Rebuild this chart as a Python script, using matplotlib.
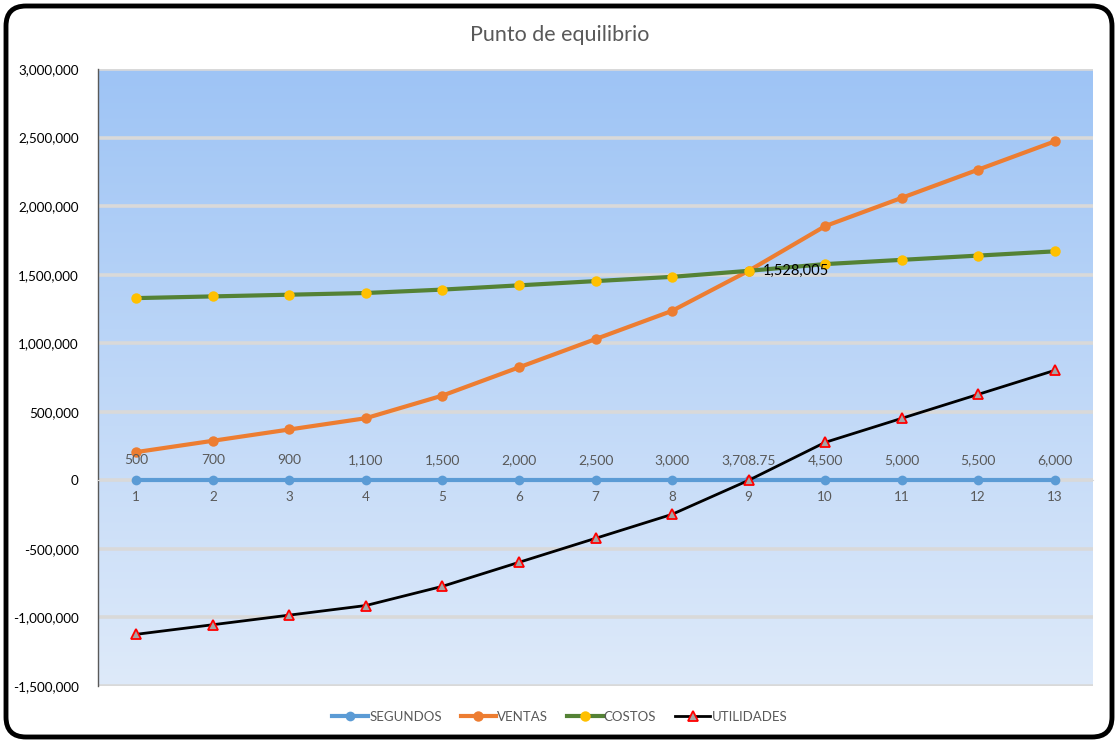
import numpy as np
import matplotlib
matplotlib.use("Agg")
import matplotlib.pyplot as plt
from matplotlib.patches import FancyBboxPatch
from matplotlib.ticker import FuncFormatter, MultipleLocator
from matplotlib.colors import LinearSegmentedColormap

plt.rcParams['font.family'] = ['Lato', 'DejaVu Sans']

# Data
periodos = ['1', '2', '3', '4', '5', '6', '7', '8', '9', '10', '11', '12', '13']
unidades = [500, 700, 900, 1100, 1500, 2000, 2500, 3000, 3708.75, 4500, 5000, 5500, 6000]
unidades_txt = ['500', '700', '900', '1,100', '1,500', '2,000', '2,500', '3,000',
                '3,708.75', '4,500', '5,000', '5,500', '6,000']
segundos = [0, 0, 0, 0, 0, 0, 0, 0, 0, 0, 0, 0, 0]
ventas = [206000, 288400, 370800, 453200, 618000, 824000, 1030000, 1236000,
          1528005, 1854000, 2060000, 2266000, 2472000]
costos = [1329062.5, 1341462.5, 1353862.5, 1366262.5, 1391062.5, 1422062.5, 1453062.5,
          1484062.5, 1528005, 1577062.5, 1608062.5, 1639062.5, 1670062.5]
utilidades = [-1123062.5, -1053062.5, -983062.5, -913062.5, -773062.5, -598062.5, -423062.5,
              -248062.5, 0, 276937.5, 451937.5, 626937.5, 801937.5]
equilibrio_idx = 8
equilibrio_valor = 1528005

GRAY = '#595959'

fig = plt.figure(figsize=(11.2, 7.4), dpi=100)
ax = fig.add_axes([98 / 1120, 1 - 686 / 740, 995 / 1120, 617 / 740])

x = np.arange(len(periodos))

# Gradient plot background
cmap = LinearSegmentedColormap.from_list('bg', ['#9EC4F5', '#DEEAFA'])
grad = np.linspace(0, 1, 256).reshape(-1, 1)
ax.imshow(grad, cmap=cmap, aspect='auto', extent=[0, 1, 0, 1],
          transform=ax.transAxes, zorder=0, interpolation='bicubic')

ax.set_xlim(-0.5, len(periodos) - 0.5)
ax.set_ylim(-1500000, 3000000)
ax.yaxis.set_major_locator(MultipleLocator(500000))
ax.yaxis.set_major_formatter(FuncFormatter(lambda v, p: f'{int(v):,}'))
ax.grid(axis='y', color='#D9D9D9', linewidth=2.6, zorder=1)
ax.set_axisbelow(True)
ax.tick_params(axis='y', length=0, labelsize=9.7, labelcolor='#000000', pad=14)

# Category axis crossing at zero
ax.spines['bottom'].set_position(('data', 0))
ax.spines['bottom'].set_color('#D9D9D9')
ax.spines['bottom'].set_linewidth(0.8)
ax.spines['top'].set_visible(False)
ax.spines['right'].set_visible(False)
ax.spines['left'].set_color('#595959')
ax.spines['left'].set_linewidth(1.0)
ax.set_xticks(x)
ax.set_xticklabels(periodos)
ax.tick_params(axis='x', length=0, labelsize=9.7, labelcolor=GRAY, pad=8)

ax.plot(x, segundos, color='#5B9BD5', linewidth=3, marker='o', markersize=7,
        markeredgewidth=0, label='SEGUNDOS', zorder=3)
ax.plot(x, ventas, color='#ED7D31', linewidth=3, marker='o', markersize=7.5,
        markeredgewidth=0, label='VENTAS', zorder=4)
ax.plot(x, costos, color='#548235', linewidth=3, marker='o', markersize=7.5,
        markerfacecolor='#FFC000', markeredgewidth=0, label='COSTOS', zorder=5)
ax.plot(x, utilidades, color='#000000', linewidth=2, marker='^', markersize=7,
        markerfacecolor='#A5A5A5', markeredgecolor='#FF0000', markeredgewidth=1.3,
        label='UTILIDADES', zorder=6)

# Unit labels above the SEGUNDOS points
for xi, yi, t in zip(x, segundos, unidades_txt):
    ax.annotate(t, (xi, yi), xytext=(0, 10), textcoords='offset points',
                ha='center', va='bottom', fontsize=10, color=GRAY, zorder=7)

# Break-even value label
ax.annotate(f'{equilibrio_valor:,}', (x[equilibrio_idx], costos[equilibrio_idx]),
            xytext=(10, 0), textcoords='offset points', ha='left', va='center',
            fontsize=10.5, color='#000000', zorder=7)

fig.text(0.5, 1 - 35 / 740, 'Punto de equilibrio', ha='center', va='center',
         fontsize=15.5, color=GRAY)

leg = fig.legend(loc='center', bbox_to_anchor=(0.5, 1 - 717 / 740), ncol=4,
                 frameon=False, fontsize=9.5, handlelength=2.7, handletextpad=0.1,
                 columnspacing=1.4)
for t in leg.get_texts():
    t.set_color(GRAY)

# Rounded outer frame, sized in inches so the corners stay circular
frame = FancyBboxPatch((0.06, 0.03), 11.06, 7.31,
                       boxstyle='round,pad=0,rounding_size=0.2',
                       transform=fig.dpi_scale_trans, fill=False,
                       edgecolor='black', linewidth=3.5, zorder=10)
fig.patches.append(frame)

fig.savefig('out.png', dpi=100)
